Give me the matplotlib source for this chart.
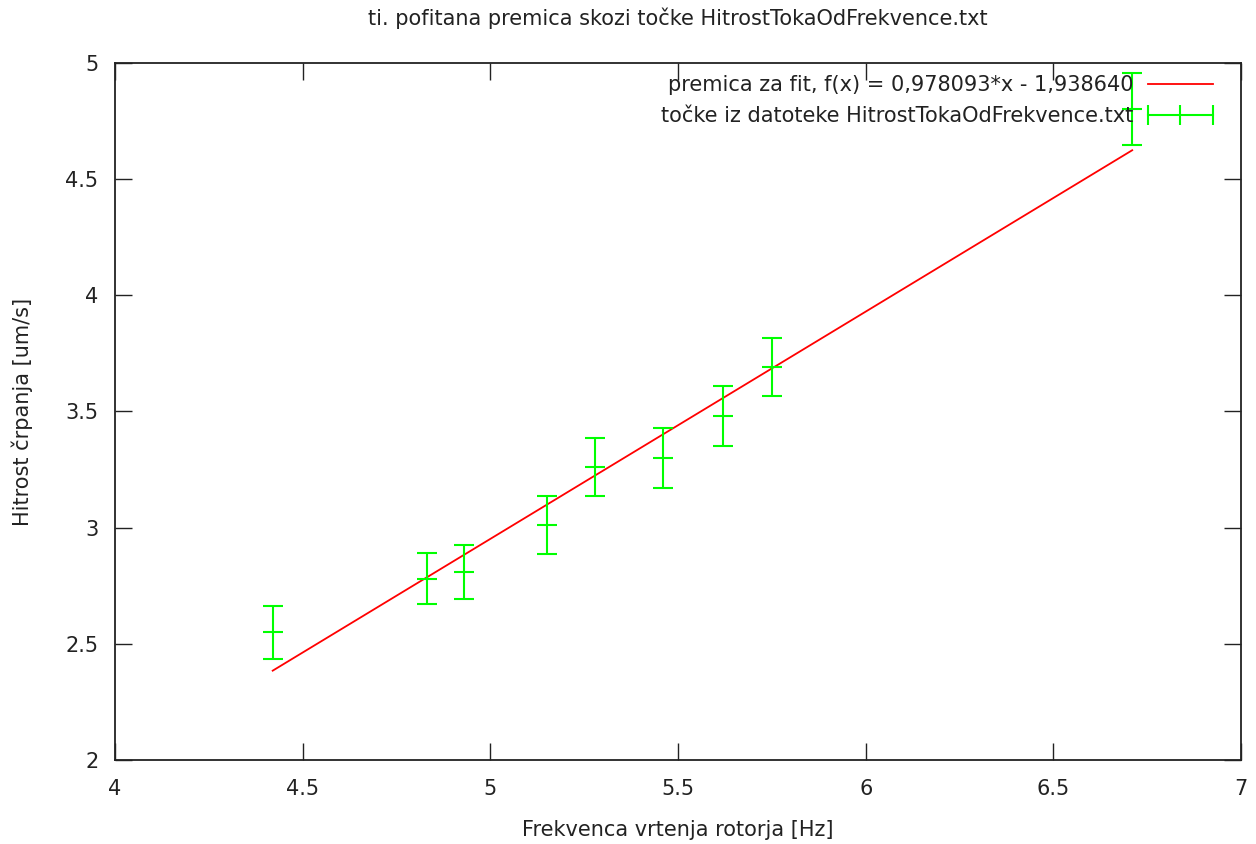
import matplotlib.pyplot as plt
from matplotlib.lines import Line2D
from matplotlib.legend_handler import HandlerLine2D
import numpy as np

# podatki iz datoteke HitrostTokaOdFrekvence.txt (odcitano z grafa)
frekvenca = [4.42, 4.83, 4.93, 5.15, 5.28, 5.46, 5.62, 5.75, 6.71]
hitrost = [2.55, 2.78, 2.81, 3.01, 3.26, 3.30, 3.48, 3.69, 4.80]
napaka = [0.115, 0.11, 0.115, 0.125, 0.125, 0.13, 0.13, 0.125, 0.155]

# parametri premice
k = 0.978093
n = -1.938640

fig = plt.figure(figsize=(12.56, 8.44), dpi=100)
ax = fig.add_axes([0.0916, 0.0995, 0.8965, 0.8259])

x_fit = np.array([min(frekvenca), max(frekvenca)])
crta, = ax.plot(x_fit, k * x_fit + n, color='#ff0000', lw=1.3)
ax.errorbar(frekvenca, hitrost, yerr=napaka, fmt='_', color='#00ff00',
            ms=14, mew=1.5, elinewidth=1.5, capsize=7, capthick=1.5)

ax.set_xlim(4, 7)
ax.set_ylim(2, 5)
ax.set_xticks([4, 4.5, 5, 5.5, 6, 6.5, 7])
ax.set_xticklabels(['4', '4.5', '5', '5.5', '6', '6.5', '7'])
ax.set_yticks([2, 2.5, 3, 3.5, 4, 4.5, 5])
ax.set_yticklabels(['2', '2.5', '3', '3.5', '4', '4.5', '5'])
ax.tick_params(direction='in', length=12, width=1.0, top=True, right=True,
               labelsize=15, colors='#222222')
ax.tick_params(axis='x', pad=14)
ax.tick_params(axis='y', pad=12)
for s in ax.spines.values():
    s.set_linewidth(1.3)
    s.set_color('#222222')

ax.set_xlabel('Frekvenca vrtenja rotorja [Hz]', fontsize=15, labelpad=15,
              color='#222222')
ax.set_ylabel('Hitrost črpanja [um/s]', fontsize=15, labelpad=23,
              color='#222222')
ax.set_title('ti. pofitana premica skozi točke HitrostTokaOdFrekvence.txt',
             fontsize=15, pad=27, color='#222222')

# legenda v slogu gnuplota (vodoravni errorbar)
tocke = Line2D([], [], color='#00ff00', lw=1.5, marker='|', ms=14, mew=1.5)
leg = ax.legend([crta, tocke],
                ['premica za fit, f(x) = 0,978093*x - 1,938640',
                 'točke iz datoteke HitrostTokaOdFrekvence.txt'],
                handler_map={tocke: HandlerLine2D(numpoints=3, marker_pad=0)},
                loc='upper right', bbox_to_anchor=(1 - 16 / 1126, 1),
                frameon=False, fontsize=15, markerfirst=False,
                handlelength=3.1, handletextpad=0.7,
                borderaxespad=0.2, labelspacing=0.5)
for t in leg.get_texts():
    t.set_color('#222222')

fig.savefig('out.png', dpi=100)
